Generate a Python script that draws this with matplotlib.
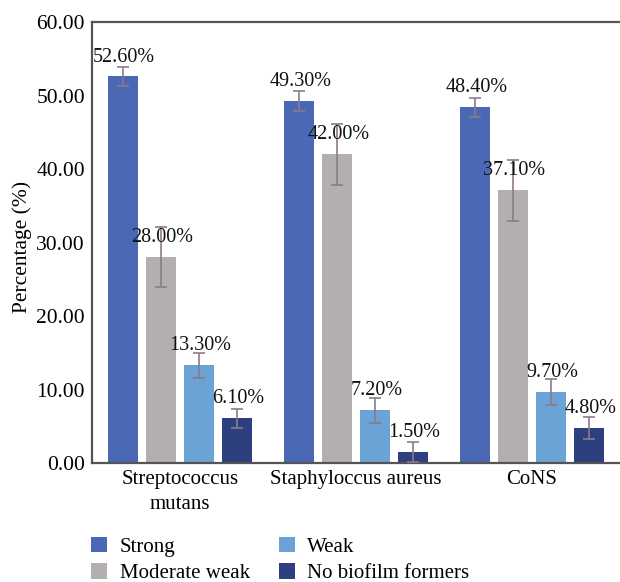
import numpy as np
import matplotlib.pyplot as plt
from matplotlib.patches import Patch

# --------------- Data ---------------
categories = ['Streptococcus\nmutans', 'Staphyloccus aureus', 'CoNS']
series = ['Strong', 'Moderate weak', 'Weak', 'No biofilm formers']
strong = [52.6, 49.3, 48.4]
moderate = [28.0, 42.0, 37.1]
weak = [13.3, 7.2, 9.7]
none_ = [6.1, 1.5, 4.8]
strong_err = [1.3, 1.35, 1.3]
moderate_err = [4.1, 4.1, 4.2]
weak_err = [1.7, 1.7, 1.75]
none_err = [1.3, 1.3, 1.5]
yticks = [0, 10, 20, 30, 40, 50, 60]

colors = ['#4A68B4', '#B3AFAE', '#6BA3D6', '#2E3F80']
err_color = '#8C7A88'

plt.rcParams['font.family'] = ['Liberation Serif', 'DejaVu Serif']

fig = plt.figure(figsize=(6.2, 5.82), dpi=100)
ax = fig.add_axes([0.148, 0.2045, 0.852, 0.7575])

x = np.arange(len(categories))
step = 0.216
width = 0.17
values = [strong, moderate, weak, none_]
errs = [strong_err, moderate_err, weak_err, none_err]

for i, (vals, e) in enumerate(zip(values, errs)):
    pos = x + (i - 1.5) * step
    ax.bar(pos, vals, width, color=colors[i], label=series[i], zorder=2)
    ax.errorbar(pos, vals, yerr=e, fmt='none', ecolor=err_color,
                elinewidth=1.2, capsize=4, capthick=1.2, zorder=3)
    for px, v in zip(pos, vals):
        ax.annotate('%.2f%%' % v, (px, v), xytext=(1, 14),
                    textcoords='offset points', ha='center', va='center',
                    fontsize=14.5, color='#111111', zorder=4)

ax.set_xlim(-0.5, 2.5)
ax.set_ylim(0, 60)
ax.set_yticks(yticks)
ax.set_yticklabels(['%.2f' % t for t in yticks], fontsize=15.5)
ax.set_xticks(x)
ax.set_xticklabels(categories, fontsize=15, linespacing=1.45)
ax.tick_params(axis='both', length=0, pad=5)
ax.set_ylabel('Percentage (%)', fontsize=15.5, labelpad=3, y=0.49)

for s in ['left', 'bottom', 'top']:
    ax.spines[s].set_color('#555555')
    ax.spines[s].set_linewidth(1.6)
ax.spines['right'].set_visible(False)

handles = [Patch(facecolor=c, label=s) for c, s in zip(colors, series)]
fig.legend(handles=handles, ncol=2, loc='upper left',
           bbox_to_anchor=(0.134, 0.092), frameon=False,
           fontsize=15, handlelength=0.77, handleheight=0.77,
           handletextpad=0.58, columnspacing=1.4, labelspacing=0.3,
           borderaxespad=0)

fig.savefig('out.png', dpi=100)
